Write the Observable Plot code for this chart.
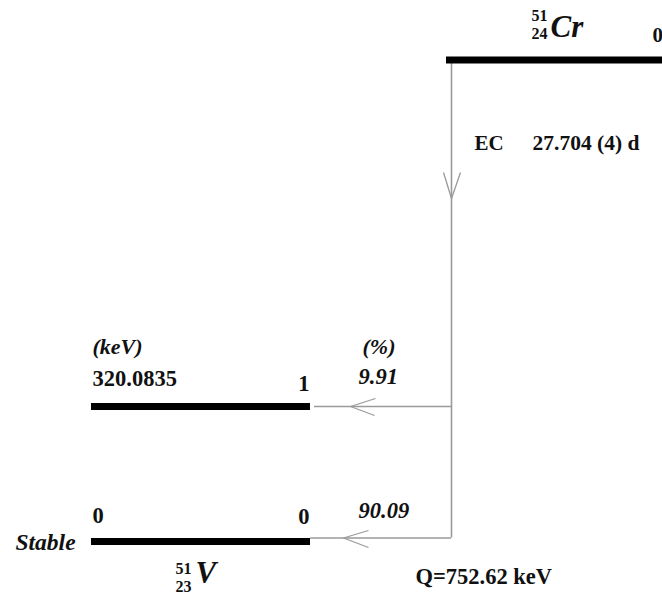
<!DOCTYPE html>
<html>
<head>
<meta charset="utf-8">
<script src="https://cdn.jsdelivr.net/npm/d3@7"></script>
<script src="https://cdn.jsdelivr.net/npm/@observablehq/plot@0.6"></script>
<style>
  html, body { margin: 0; padding: 0; background: #fff; }
  #chart svg { display: block; }
  #chart svg text { font-family: "Liberation Serif", "Times New Roman", serif !important; }
</style>
</head>
<body>
<div id="chart"></div>
<script>
// ---- Data ----
const parentSymbol = "Cr";
const parentMass = "51";
const parentZ = "24";
const parentLevel = "0";
const decayMode = "EC";
const halfLife = "27.704 (4) d";
const daughterSymbol = "V";
const daughterMass = "51";
const daughterZ = "23";
const levelIndex = ["1", "0"];
const levelEnergy = ["320.0835", "0"];
const branchPct = ["9.91", "90.09"];
const stability = "Stable";
const qValue = "Q=752.62 keV";
const energyUnit = "(keV)";
const pctUnit = "(%)";

// ---- Layout (drawing coordinates) ----
const W = 662, H = 597;
const rowY = {parent: 59.5, L1: 406, L0: 541};
const daughterRows = [rowY.L1, rowY.L0];
const transY = [406, 537.5];
const decayX = 451;
const daughterX1 = 91, daughterX2 = 310;
const parentX1 = 446, parentX2 = 662;

const serif = "'Liberation Serif', 'Times New Roman', serif";
const ink = "#111";
const grey = "#9a9a9a";

const levels = [
  {x1: parentX1, x2: parentX2, y: rowY.parent},
  ...levelEnergy.map((e, i) => ({x1: daughterX1, x2: daughterX2, y: daughterRows[i]}))
];
const transitions = branchPct.map((p, i) => ({x1: i === 0 ? 314 : daughterX2, x2: decayX, y: transY[i]}));

// chevrons (open arrowheads)
const chevrons = [];
function chevron(tx, ty, ax1, ay1, ax2, ay2) {
  chevrons.push({x1: ax1, y1: ay1, x2: tx, y2: ty});
  chevrons.push({x1: ax2, y1: ay2, x2: tx, y2: ty});
}
chevron(decayX, 198, 443, 172, 460, 172);
chevron(350, transY[0], 375, 398, 374, 415);
chevron(343, transY[1], 368, 530, 368, 547);

const txt = (data, opts) => Plot.text(data, {
  fontFamily: serif, fontWeight: "bold", fill: ink, lineAnchor: "bottom", textAnchor: "start", ...opts
});

const plot = Plot.plot({
  width: W, height: H,
  margin: 0,
  style: {fontFamily: serif},
  x: {domain: [0, W], range: [0, W], axis: null},
  y: {domain: [0, H], range: [0, H], axis: null},
  marks: [
    // decay line and transitions
    Plot.ruleX([decayX], {y1: 63, y2: transY[1], stroke: grey, strokeWidth: 1.6}),
    Plot.ruleY(transitions, {x1: "x1", x2: "x2", y: "y", stroke: grey, strokeWidth: 1.6}),
    Plot.link(chevrons, {x1: "x1", y1: "y1", x2: "x2", y2: "y2", stroke: grey, strokeWidth: 1.3}),
    // levels
    Plot.ruleY(levels, {x1: "x1", x2: "x2", y: "y", stroke: "#000", strokeWidth: 7}),
    // parent nuclide label
    txt([parentMass], {x: 531, y: 20, fontSize: 16}),
    txt([parentZ], {x: 531, y: 38.5, fontSize: 16}),
    txt([parentSymbol], {x: 550, y: 36, fontSize: 31, fontStyle: "italic"}),
    txt([parentLevel], {x: 652, y: 41, fontSize: 21}),
    // decay mode and half-life
    txt([decayMode], {x: 474, y: 149, fontSize: 21}),
    txt([halfLife], {x: 532, y: 149, fontSize: 21.5}),
    // unit headers
    txt([energyUnit], {x: 92, y: 353, fontSize: 22, fontStyle: "italic"}),
    txt([pctUnit], {x: 362, y: 353, fontSize: 22, fontStyle: "italic"}),
    // daughter level energies, indices, intensities
    txt(levelEnergy, {x: () => 92, y: (d, i) => [385, 522][i], fontSize: 22.5}),
    txt(levelIndex, {x: () => 309, y: (d, i) => [390, 523][i], fontSize: 22.5, textAnchor: "end"}),
    txt(branchPct, {x: () => 358, y: (d, i) => [383, 517][i], fontSize: 22.5, fontStyle: "italic"}),
    // stable label
    txt([stability], {x: 15, y: 549, fontSize: 23.5, fontStyle: "italic"}),
    // daughter nuclide label
    txt([daughterMass], {x: 175, y: 573, fontSize: 16}),
    txt([daughterZ], {x: 175, y: 591, fontSize: 16}),
    txt([daughterSymbol], {x: 195, y: 582, fontSize: 31, fontStyle: "italic"}),
    // Q value
    txt([qValue], {x: 415, y: 583, fontSize: 22.5})
  ]
});
document.getElementById("chart").appendChild(plot);
</script>
</body>
</html>
